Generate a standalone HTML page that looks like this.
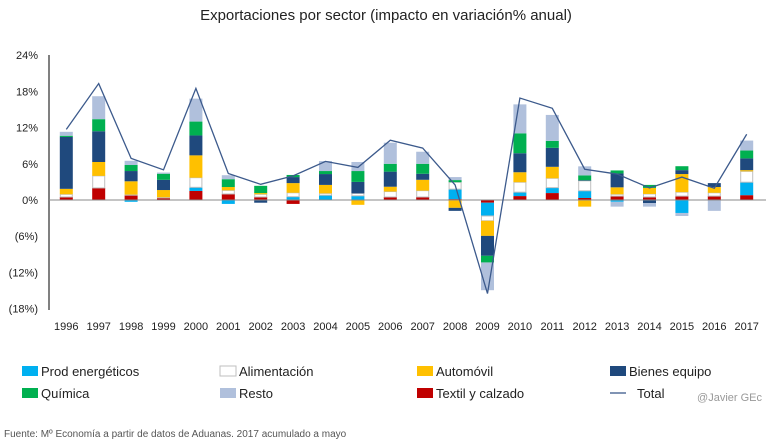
<!DOCTYPE html>
<html><head><meta charset="utf-8"><style>
body{margin:0;background:#fff;font-family:"Liberation Sans",sans-serif;}
svg{display:block}
</style></head><body>
<svg id="chart" width="772" height="443" xmlns="http://www.w3.org/2000/svg">
<text x="386" y="20" text-anchor="middle" font-size="15" fill="#222">Exportaciones por sector (impacto en variación% anual)</text>
<g id="plot"></g>
<text x="4" y="437" font-size="10" fill="#555">Fuente: Mº Economía a partir de datos de Aduanas. 2017 acumulado a  mayo</text>
<text x="762" y="401" text-anchor="end" font-size="11" fill="#999">@Javier GEc</text>
</svg>
<script>
const years=["1996","1997","1998","1999","2000","2001","2002","2003","2004","2005","2006","2007","2008","2009","2010","2011","2012","2013","2014","2015","2016","2017"];
const textil=[0.5,2.0,0.8,0.35,1.5,1.0,0.5,-0.65,0,0,0.5,0.5,0.15,-0.45,0.65,1.15,0.33,0.65,0.5,0.65,0.65,0.8];
const energeticos=[0,0,-0.3,0,0.6,-0.65,0,0.55,0.8,0.7,0,0,1.65,-2.2,0.65,0.9,1.2,-0.3,0,-2.15,0,2.15];
const alimentacion=[0.45,2.0,0.1,0.1,1.6,0.6,0.45,0.65,0.3,0.4,0.9,1.05,1.15,-0.8,1.65,1.55,1.65,0.3,0.5,0.65,0.55,1.8];
const automovil=[0.9,2.3,2.2,1.2,3.7,0.55,0.2,1.6,1.4,-0.8,0.8,1.8,-1.3,-2.5,1.65,1.9,-1.1,1.15,1.0,3.0,0.95,0.2];
const bienes=[8.6,5.1,1.7,1.7,3.3,0,-0.45,1.0,1.8,1.9,2.5,1.0,-0.5,-3.3,3.15,3.15,0.1,2.3,-0.5,0.65,0.65,1.95];
const quimica=[0.2,2.0,1.0,1.0,2.3,1.3,1.2,0.35,0.5,1.8,1.3,1.65,0.35,-1.1,3.3,1.15,0.8,0.5,0.5,0.65,0,1.3];
const resto=[0.65,3.8,0.7,0.2,3.8,0.66,0,0,1.65,1.5,3.5,2.0,0.5,-4.6,4.8,4.3,1.5,-0.8,-0.6,-0.5,-1.8,1.65];
const total=[11.7,19.3,6.9,5.0,18.5,4.4,2.6,4.0,6.4,5.4,9.9,8.6,2.5,-15.5,16.9,15.2,5.1,4.3,2.0,3.8,1.95,10.9];
const yTicks=[24,18,12,6,0,-6,-12,-18];
const yTickLabels=["24%","18%","12%","6%","0%","(6%)","(12%)","(18%)"];

const NS="http://www.w3.org/2000/svg";
const g=document.getElementById('plot');
const y0=200, pxPer=36.2/6;
const yScale=v=>y0-v*pxPer;
const xScale=i=>66.3+i*32.4;
function mk(t,a){const e=document.createElementNS(NS,t);for(const k in a)e.setAttribute(k,a[k]);g.appendChild(e);return e;}
const series=[
 {n:"Textil y calzado",d:textil,c:"#c00000",k:"textil"},
 {n:"Prod energéticos",d:energeticos,c:"#00b0f0",k:"energeticos"},
 {n:"Alimentación",d:alimentacion,c:"#ffffff",k:"alimentacion",s:"#bfbfbf"},
 {n:"Automóvil",d:automovil,c:"#ffc000",k:"automovil"},
 {n:"Bienes equipo",d:bienes,c:"#1f497d",k:"bienes-equipo"},
 {n:"Química",d:quimica,c:"#00b050",k:"quimica"},
 {n:"Resto",d:resto,c:"#b0c0dc",k:"resto"}];
// y ticks
yTicks.forEach((v,i)=>{const t=mk('text',{x:38,y:yScale(v)+4,'text-anchor':'end','font-size':11,fill:'#222'});t.textContent=yTickLabels[i];
});
// bars
years.forEach((yr,i)=>{let pos=0,neg=0;const x=xScale(i)-6.5;
 series.forEach(s=>{const v=s.d[i];if(!v)return;let top,h;
  if(v>0){top=yScale(pos+v);h=v*pxPer;pos+=v;}else{top=yScale(neg);h=-v*pxPer;neg+=v;}
  const r=mk('rect',{x:s.s?x+0.5:x,y:top,width:s.s?12:13,height:h,fill:s.c});
  if(s.s){r.setAttribute('stroke',s.s);r.setAttribute('stroke-width','1');}
  });
 const t=mk('text',{x:xScale(i),y:330,'text-anchor':'middle','font-size':11,fill:'#222'});t.textContent=yr;
 
});
// axes
const ax=mk('line',{x1:49,y1:55,x2:49,y2:310,stroke:'#000','stroke-width':1});

const zl=mk('line',{x1:49,y1:y0,x2:766,y2:y0,stroke:'#888','stroke-width':1});

// total line
const pl=mk('polyline',{points:total.map((v,i)=>xScale(i)+','+yScale(v)).join(' '),fill:'none',stroke:'#3c5a8c','stroke-width':1.3});

// legend
const leg=[["Prod energéticos","#00b0f0",22,371],["Alimentación","#ffffff",220,371],["Automóvil","#ffc000",417,371],["Bienes equipo","#1f497d",610,371],
["Química","#00b050",22,393],["Resto","#b0c0dc",220,393],["Textil y calzado","#c00000",417,393]];
leg.forEach(l=>{const r=mk('rect',{x:l[2],y:l[3]-5,width:16,height:10,fill:l[1]});
 if(l[1]=="#ffffff"){r.setAttribute('stroke','#bfbfbf');}
 
 const t=mk('text',{x:l[2]+19,y:l[3]+5,'font-size':13,fill:'#222'});t.textContent=l[0];
 });
const ll=mk('line',{x1:610,y1:393,x2:626,y2:393,stroke:'#3c5a8c','stroke-width':1.3});

const lt=mk('text',{x:637,y:398,'font-size':13,fill:'#222'});lt.textContent="Total";

</script>
</body></html>
